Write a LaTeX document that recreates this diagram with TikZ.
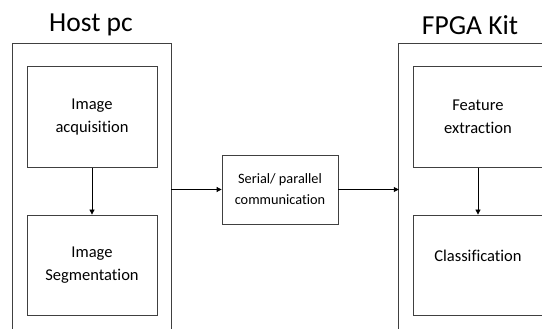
\documentclass[tikz,border=0pt]{standalone}
\usepackage{fontspec}
\setmainfont{Carlito}[Ligatures=NoCommon]
\usetikzlibrary{arrows.meta,positioning}
\tikzset{
  side/.style={
    rectangle, minimum width=158pt, minimum height=285pt, inner sep=0pt
  },
  sideframe/.style={draw=black!75, line width=0.8pt},
  sidetitle/.style={font=\fontsize{27.5}{30}\selectfont, inner sep=0pt},
  unitbox/.style={
    rectangle, draw=black!75, line width=0.8pt,
    minimum width=130pt, minimum height=101pt,
    align=center, font=\fontsize{16.5}{23}\selectfont, inner sep=2pt
  },
  linkbox/.style={
    rectangle, draw=black!75, line width=0.8pt,
    minimum width=116pt, minimum height=69pt,
    align=center, font=\fontsize{14.3}{21}\selectfont, inner sep=2pt
  },
  flowarrow/.style={-{Triangle[length=5pt,width=5pt]}, line width=0.8pt, draw=black},
}

\begin{document}
\begin{tikzpicture}[x=1pt,y=1pt]
  \useasboundingbox (0,0) rectangle (542,329);
  \clip (0,0) rectangle (542,329);
  % the two sides, open at the bottom
  \node (host) [side] at (92,142.5) {};
  \node (fpga) [side] at (478,142.5) {};
  \draw[sideframe] (host.south west) |- (host.north east) -- (host.south east);
  \draw[sideframe] (fpga.south west) |- (fpga.north east) -- (fpga.south east);
  \node (hosttitle) [sidetitle] at (91,304) {Host pc};
  \node (fpgatitle) [sidetitle] at (470,304) {FPGA Kit};
  % blocks
  \node (acq) [unitbox, below=22pt of host.north] {Image\\acquisition};
  \node (seg) [unitbox, below=47pt of acq, minimum height=100pt] {Image\\Segmentation};
  \node (feat) [unitbox, below=22pt of fpga.north] {Feature\\extraction};
  \node (cls) [unitbox, below=47pt of feat, minimum height=100pt] {\raisebox{18pt}{Classification}};
  \node (link) [linkbox] at (280,139.5) {Serial/ parallel\\communication};
  \draw[flowarrow] (acq) -- (seg);
  \draw[flowarrow] (feat) -- (cls);
  \draw[flowarrow] (link.west -| host.east) -- (link);
  \draw[flowarrow] (link) -- (link.east -| fpga.west);
\end{tikzpicture}
\end{document}
